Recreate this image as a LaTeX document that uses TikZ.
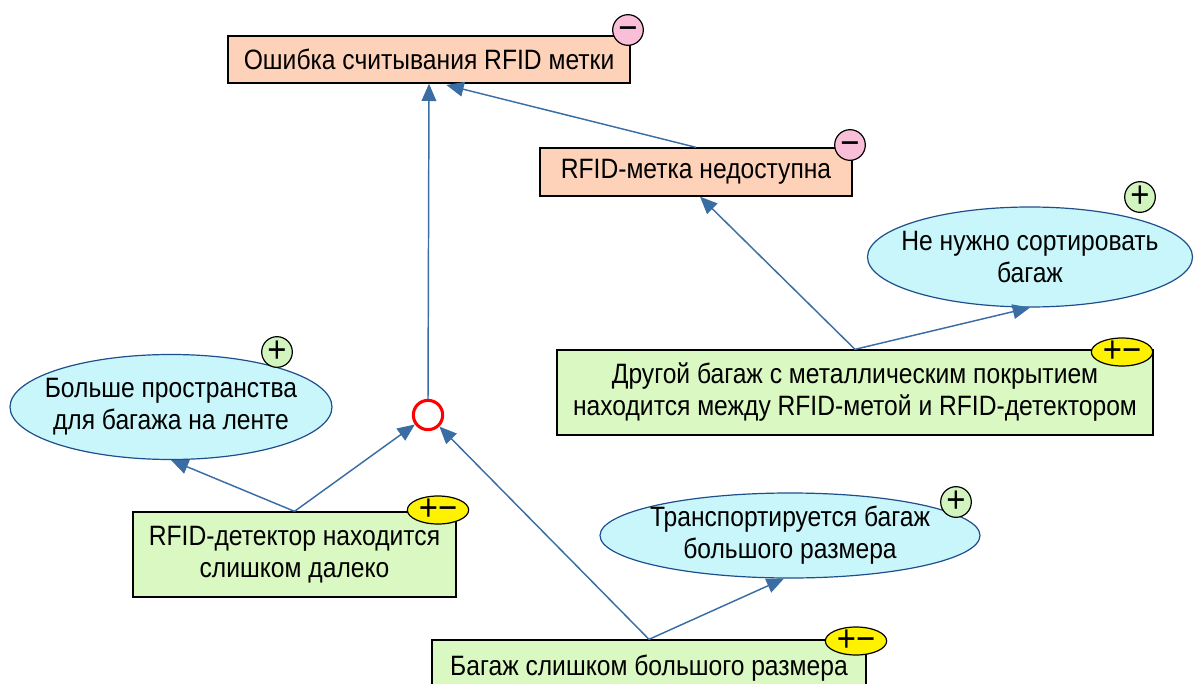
\documentclass[tikz,border=0pt]{standalone}
\usepackage{fontspec}
\setmainfont{Liberation Sans}[FakeStretch=0.88]
\usetikzlibrary{arrows.meta,shapes.geometric}
\definecolor{peach}{HTML}{FDD2B8}
\definecolor{lgreen}{HTML}{DAF8C2}
\definecolor{lcyan}{HTML}{C8F6FA}
\definecolor{edgeblue}{HTML}{1F4E8C}
\definecolor{arrowblue}{HTML}{3A6DA3}
\definecolor{pinkb}{HTML}{F9BED8}
\definecolor{greenb}{HTML}{D2F5C0}
\tikzset{
  txt/.style={font=\fontsize{21}{24}\selectfont, align=center, inner sep=0pt},
  negbox/.style={txt, draw=black, line width=1pt, fill=peach, rectangle},
  causebox/.style={txt, draw=black, line width=1pt, fill=lgreen, rectangle},
  goodell/.style={txt, draw=edgeblue, line width=0.9pt, fill=lcyan, ellipse, inner xsep=-15pt, inner ysep=-2pt},
  orgate/.style={circle, draw=red, line width=2.3pt, fill=white, minimum size=22pt, inner sep=0pt},
  badgetxt/.style={inner sep=0pt, font=\fontsize{28}{28}\selectfont},
  minusbadge/.style={badgetxt, circle, draw=black, line width=0.9pt, fill=pinkb, minimum size=23pt},
  plusbadge/.style={badgetxt, circle, draw=black, line width=0.9pt, fill=greenb, minimum size=23pt},
  pmbadge/.style={badgetxt, ellipse, draw=black, line width=0.9pt, fill=yellow, minimum width=46pt, minimum height=21pt, inner xsep=-6pt, inner ysep=-4pt},
  link/.style={draw=arrowblue, line width=1.1pt, -{Triangle[length=13pt,width=11pt]}}
}
\begin{document}
\begin{tikzpicture}[x=0.75pt,y=-0.75pt]
\useasboundingbox (0,0) rectangle (1195,684);
\clip (0,0) rectangle (1195,684);
% nodes
\node[negbox, minimum width=301.5pt, minimum height=35.25pt] (b1) at (429,59.5) {Ошибка считывания RFID метки};
\node[negbox, minimum width=234pt, minimum height=36pt] (b2) at (696,172) {RFID-метка недоступна};
\node[goodell, minimum width=243.75pt, minimum height=75pt] (e1) at (1030,257) {Не нужно сортировать\\багаж};
\node[causebox, minimum width=447pt, minimum height=63.75pt] (b3) at (855,392.5) {Другой багаж с металлическим покрытием\\находится между RFID-метой и RFID-детектором};
\node[goodell, minimum width=241.5pt, minimum height=78.75pt] (e2) at (171,407) {Больше пространства\\для багажа на ленте};
\node[orgate] (or) at (428,415) {};
\node[causebox, minimum width=242.25pt, minimum height=63.75pt] (b4) at (294.5,554.5) {RFID-детектор находится\\слишком далеко};
\node[goodell, minimum width=285pt, minimum height=63.75pt] (e3) at (790,535.5) {Транспортируется багаж\\большого размера};
\node[causebox, minimum width=325.5pt, minimum height=42pt] (b5) at (649,668) {Багаж слишком большого размера};
% badges
\node[minusbadge] (m1) at (628,30) {\vphantom{+}−};
\node[minusbadge] (m2) at (850,145) {\vphantom{+}−};
\node[plusbadge] (p1) at (1140,197) {+};
\node[plusbadge] (p2) at (277,352) {+};
\node[plusbadge] (p3) at (956,502) {+};
\node[pmbadge] (y1) at (1122,352) {+−};
\node[pmbadge] (y2) at (438,510) {+−};
\node[pmbadge] (y3) at (856,641) {+−};
% connectors
\draw[link] (or.north) -- (b1.south);
\draw[link] (b2.north) -- ([xshift=13pt,yshift=-1pt]b1.south);
\draw[link] (b3.north) -- ([xshift=3pt]b2.south);
\draw[link] (b3.north) -- (e1.south);
\draw[link] (b4.north) -- (e2.south);
\draw[link] (b4.north) -- (or);
\draw[link] (b5.north) -- (or);
\draw[link] (b5.north) -- (e3.262);
\end{tikzpicture}
\end{document}
